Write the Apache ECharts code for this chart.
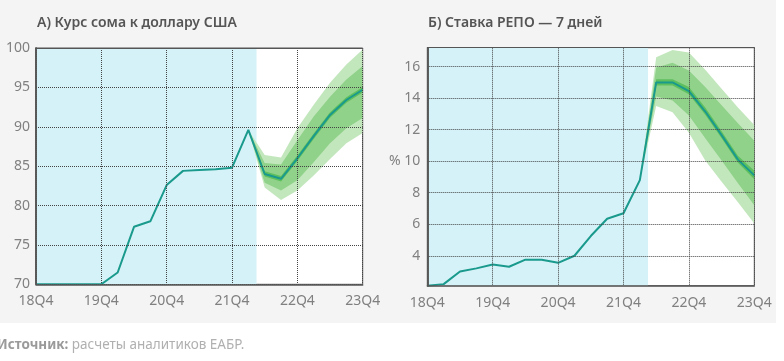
<!DOCTYPE html>
<html><head><meta charset="utf-8">
<script src="https://cdn.jsdelivr.net/npm/echarts@6/dist/echarts.min.js"></script>
<style>html,body{margin:0;padding:0;background:#fff;}#c{width:784px;height:361px;}</style>
</head><body><div id="c"></div>
<script>
// ---------- data ----------
const xTickLabels = ['18Q4','19Q4','20Q4','21Q4','22Q4','23Q4'];
const quarters = [0,1,2,3,4,5,6,7,8,9,10,11,12,13,14,15,16,17,18,19,20];
const forecastQuarters = [13,14,15,16,17,18,19,20];
const historyEnd = 13.5;

const titleA = 'А) Курс сома к доллару США';
const titleB = 'Б) Ставка РЕПО — 7 дней';
const sourceLabel = 'Источник:';
const sourceText = ' расчеты аналитиков ЕАБР.';

const somRate = [70.0,70.0,70.0,70.0,70.0,71.5,77.3,78.0,82.6,84.4,84.5,84.6,84.8,89.6,84.0,83.4,86.0,88.8,91.5,93.4,94.7];
const somOuterLo = [89.6,82.3,80.7,81.9,83.8,85.9,87.9,89.2];
const somOuterHi = [89.6,86.4,86.1,89.8,92.8,95.6,97.9,99.8];
const somMedLo   = [89.6,82.9,81.9,83.2,85.5,87.9,89.8,91.1];
const somMedHi   = [89.6,85.4,85.2,88.3,91.3,93.8,96.0,97.7];
const somInnerLo = [89.6,83.7,83.05,85.65,88.45,91.15,93.05,94.35];
const somInnerHi = [89.6,84.35,83.75,86.35,89.15,91.85,93.75,95.05];

const repoRate = [2.1,2.2,3.0,3.2,3.45,3.3,3.75,3.75,3.55,4.0,5.25,6.35,6.7,8.8,15.0,15.0,14.45,13.15,11.65,10.1,9.1];
const repoOuterLo = [8.8,13.5,13.1,11.8,10.05,8.7,7.4,6.05];
const repoOuterHi = [8.8,16.6,17.05,16.9,15.8,14.6,13.4,12.3];
const repoMedLo   = [8.8,14.1,13.85,12.9,11.45,10.05,8.6,7.2];
const repoMedHi   = [8.8,15.95,16.25,15.75,14.7,13.55,12.4,11.3];
const repoInnerLo = [8.8,14.8,14.8,14.25,12.95,11.45,9.9,8.85];
const repoInnerHi = [8.8,15.2,15.2,14.7,13.4,11.9,10.35,9.4];

const repoTicks = [4,6,8,10,12,14,16];

// ---------- styles ----------
const FONT = '"Noto Sans", sans-serif';
const C_LINE = '#1a9a8c', C_OUT = '#c3e7bd', C_MED = '#90d28a', C_IN = '#5ebf5e', C_HIST = '#d5f2f8';
const labelStyle = {color:'#808080', fontSize:14, fontFamily:FONT};
const splitStyle = {show:true, lineStyle:{color:'#444', type:'dotted', width:1, opacity:1}};

function pairs(xs, ys){ return xs.map((x,i)=>[x, ys[i]]); }

function bandSeries(g, lo, hi, color){
  const xs = forecastQuarters;
  return {
    type:'custom', xAxisIndex:g*2, yAxisIndex:g*2, silent:true, z:2,
    data: xs.map((x,i)=>[x, lo[i], hi[i]]),
    encode:{x:0, y:[1,2]},
    renderItem:function(params, api){
      if (params.dataIndex !== 0) return null;
      const pts = [];
      for (let i=0;i<xs.length;i++) pts.push(api.coord([xs[i], hi[i]]));
      for (let i=xs.length-1;i>=0;i--) pts.push(api.coord([xs[i], lo[i]]));
      return {type:'polygon', shape:{points:pts}, style:{fill:color, stroke:null}};
    }
  };
}

const grids = [
  {left:36, top:48, width:326.7, height:236.3},
  {left:427.3, top:47.7, width:327, height:238}
];
grids.forEach(g=>{ g.show=true; g.backgroundColor='#fff'; g.borderColor='#555'; g.borderWidth=1; });

function xAxes(g){
  return [
    {type:'value', gridIndex:g, min:0, max:20, interval:4, z:5,
     axisLine:{show:true, lineStyle:{color:'#555', width:1.5}}, axisTick:{show:false},
     axisLabel:Object.assign({margin:10, formatter:v=>xTickLabels[v/4]}, labelStyle),
     splitLine:splitStyle},
    {type:'value', gridIndex:g, position:'top', min:0, max:20, z:5,
     axisLine:{show:true, lineStyle:{color:'#555', width:1}}, axisTick:{show:false},
     axisLabel:{show:false}, splitLine:{show:false}}
  ];
}

const option = {
  animation:false,
  backgroundColor:'#fff',
  graphic:[
    {type:'rect', left:0, top:0, shape:{width:776, height:323}, style:{fill:'#f4f4f4'}, z:-10, silent:true},
    {type:'text', left:37, top:16, style:{text:titleA, fill:'#555', font:'600 14px '+FONT}},
    {type:'text', left:428, top:16, style:{text:titleB, fill:'#555', font:'600 14px '+FONT}},
    {type:'text', left:-3, top:338, style:{
      text:'{b|'+sourceLabel+'}{r|'+sourceText+'}',
      rich:{b:{fill:'#9a9a9a', fontWeight:'bold', fontSize:13.5, fontFamily:FONT},
            r:{fill:'#b0b0b0', fontSize:13.5, fontFamily:FONT}}}}
  ],
  grid:grids,
  xAxis:[].concat(xAxes(0), xAxes(1)),
  yAxis:[
    {type:'value', gridIndex:0, min:70, max:100, interval:5, z:5,
     axisLine:{show:true, lineStyle:{color:'#555', width:1.5}}, axisTick:{show:false},
     axisLabel:Object.assign({margin:6}, labelStyle), splitLine:splitStyle},
    {type:'value', gridIndex:0, position:'right', min:70, max:100, z:5,
     axisLine:{show:true, lineStyle:{color:'#555', width:1.5}}, axisTick:{show:false},
     axisLabel:{show:false}, splitLine:{show:false}},
    {type:'value', gridIndex:1, min:2.1, max:17.2, z:5,
     axisLine:{show:true, lineStyle:{color:'#555', width:1.5}},
     axisTick:{show:false, customValues:repoTicks},
     axisLabel:Object.assign({margin:7, customValues:repoTicks, formatter:v=> v===10 ? '% 10' : String(v)}, labelStyle),
     splitLine:splitStyle},
    {type:'value', gridIndex:1, position:'right', min:2.1, max:17.2, z:5,
     axisLine:{show:true, lineStyle:{color:'#555', width:1.5}}, axisTick:{show:false},
     axisLabel:{show:false}, splitLine:{show:false}}
  ],
  series:[
    {type:'line', xAxisIndex:0, yAxisIndex:0, data:[], silent:true,
     markArea:{silent:true, itemStyle:{color:C_HIST}, data:[[{xAxis:0},{xAxis:historyEnd}]]}, z:1},
    {type:'line', xAxisIndex:2, yAxisIndex:2, data:[], silent:true,
     markArea:{silent:true, itemStyle:{color:C_HIST}, data:[[{xAxis:0},{xAxis:historyEnd}]]}, z:1},
    bandSeries(0,somOuterLo,somOuterHi,C_OUT),
    bandSeries(0,somMedLo,somMedHi,C_MED),
    bandSeries(0,somInnerLo,somInnerHi,C_IN),
    bandSeries(1,repoOuterLo,repoOuterHi,C_OUT),
    bandSeries(1,repoMedLo,repoMedHi,C_MED),
    bandSeries(1,repoInnerLo,repoInnerHi,C_IN),
    {type:'line', xAxisIndex:0, yAxisIndex:0, data:pairs(quarters, somRate), symbol:'none',
     lineStyle:{color:C_LINE, width:2}, z:4},
    {type:'line', xAxisIndex:2, yAxisIndex:2, data:pairs(quarters, repoRate), symbol:'none',
     lineStyle:{color:C_LINE, width:2}, z:4}
  ]
};
const chart = echarts.init(document.getElementById('c'), null, {renderer:'canvas'});
chart.setOption(option);
</script></body></html>
